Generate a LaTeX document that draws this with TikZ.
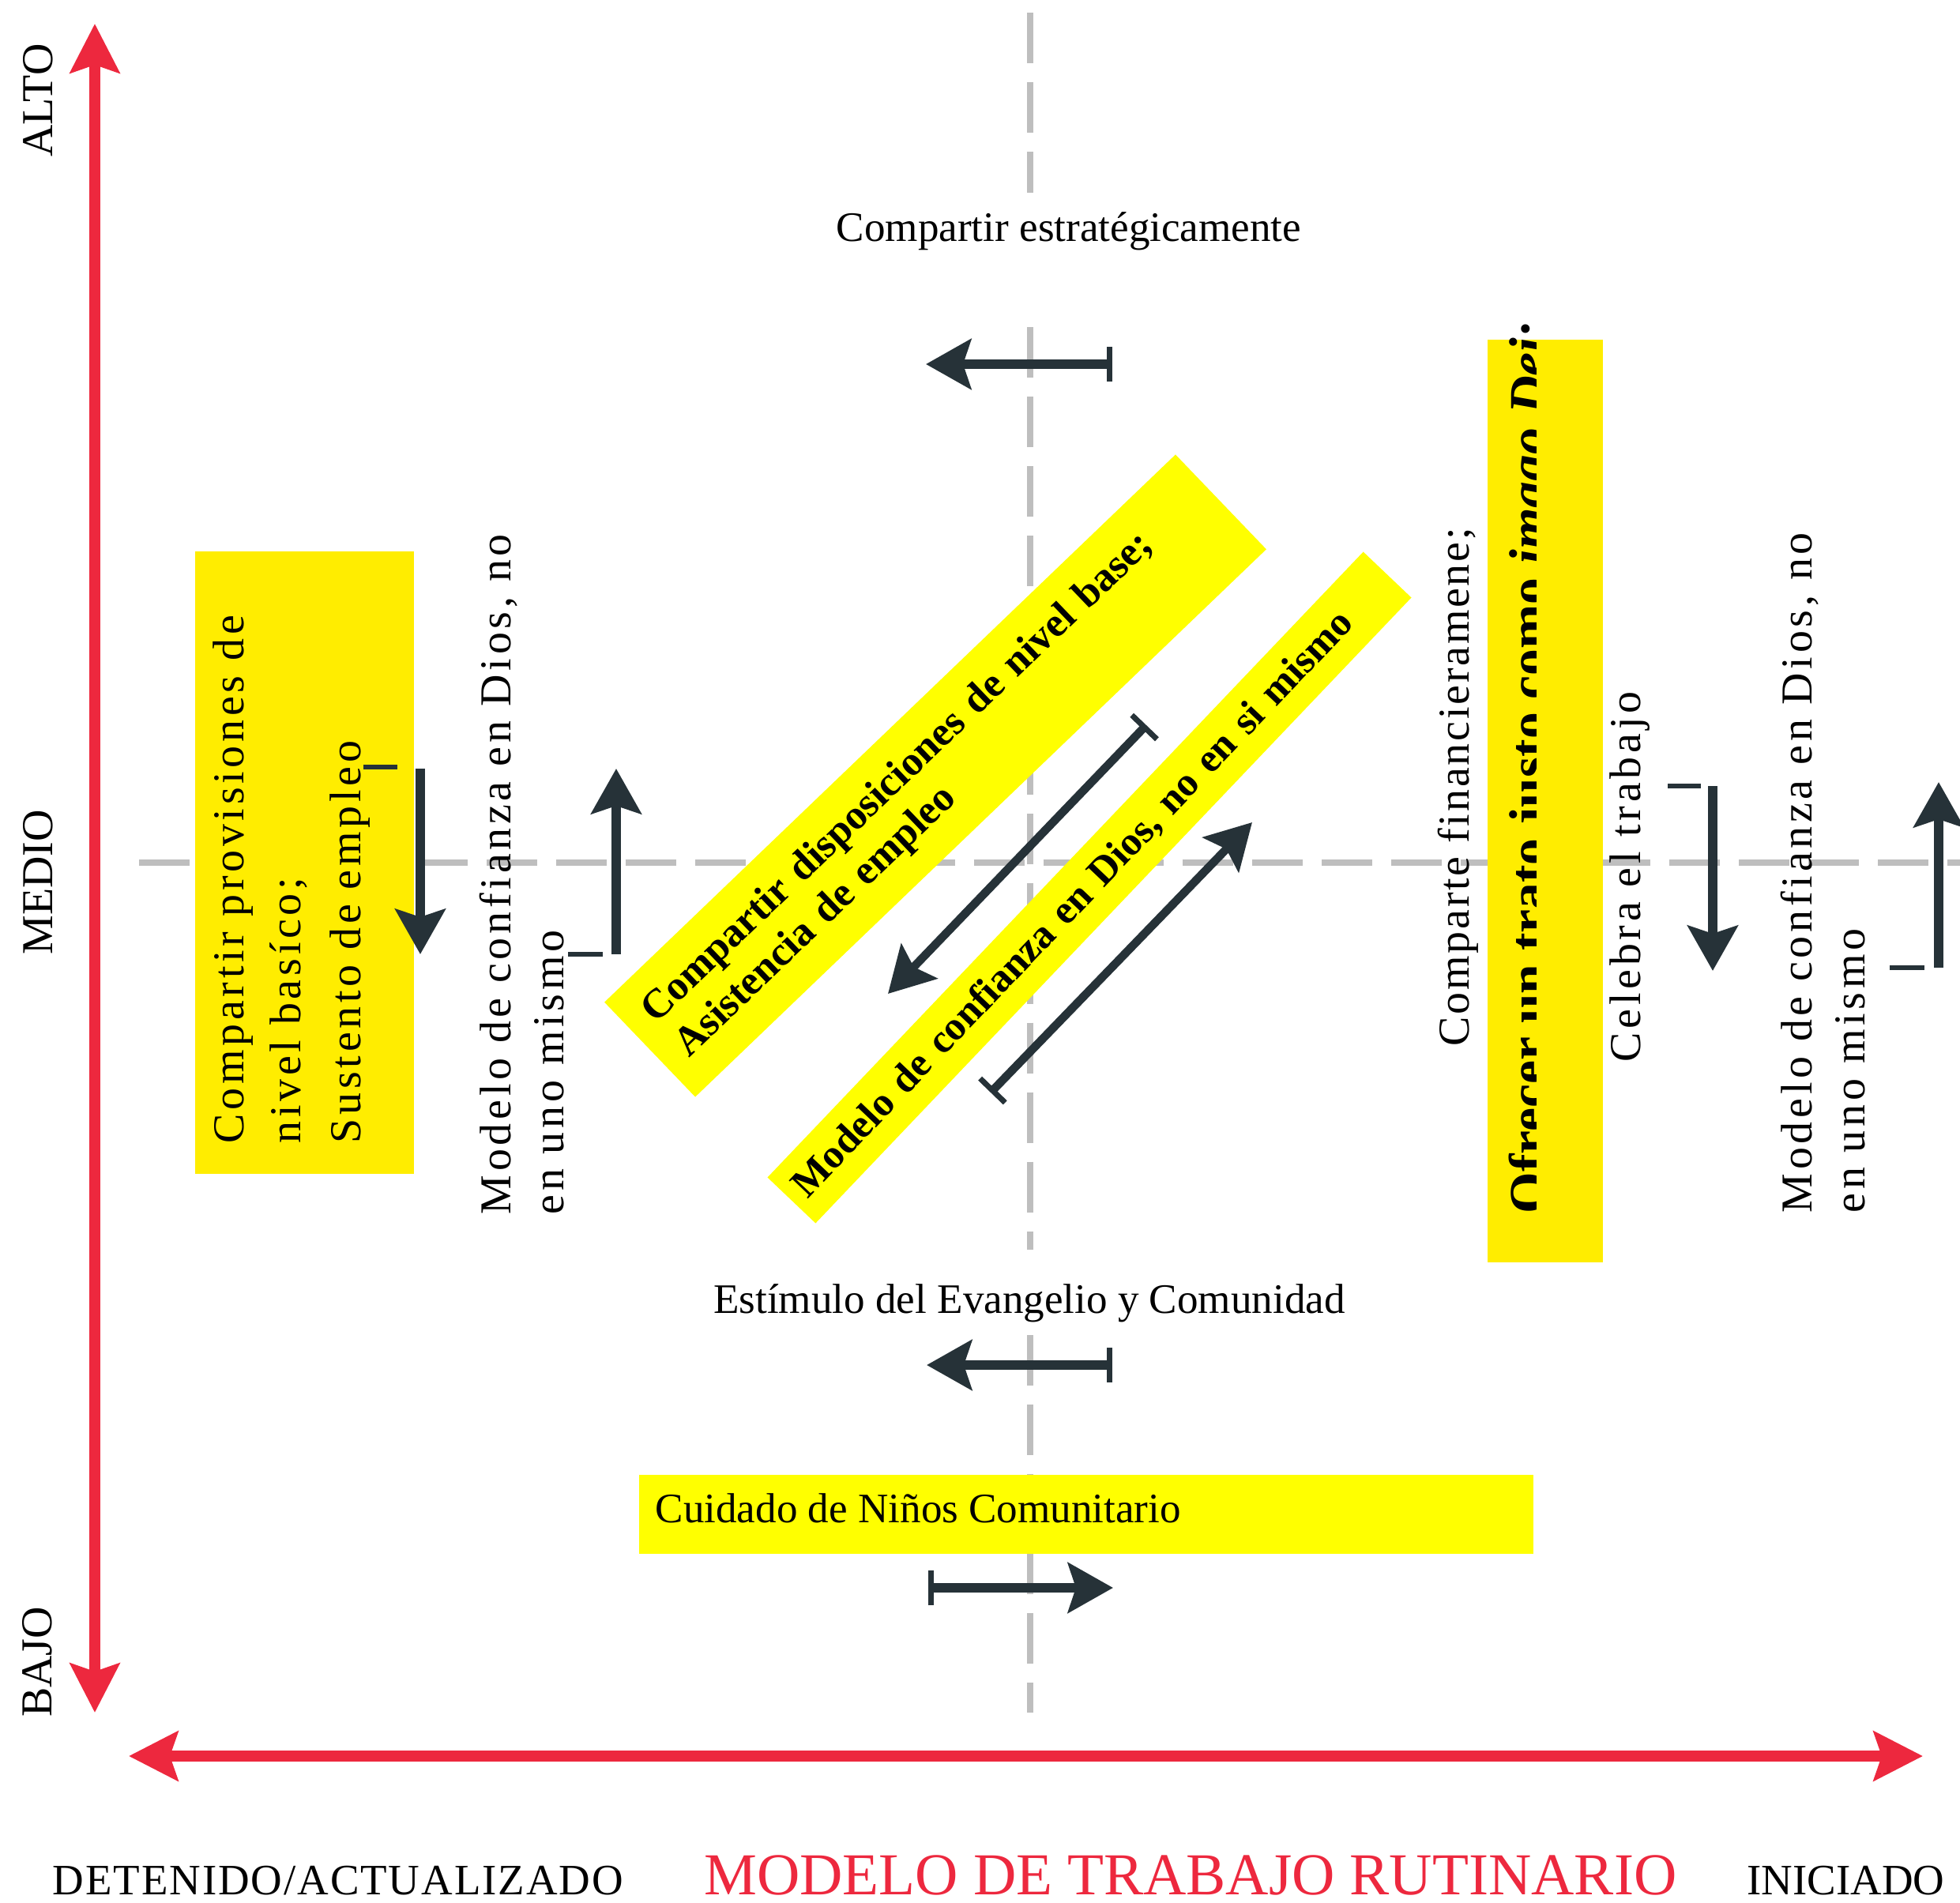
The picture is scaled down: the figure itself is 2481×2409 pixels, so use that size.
\documentclass[tikz,border=0pt]{standalone}
\usepackage{fontspec}
\setmainfont{Liberation Serif}
\newfontfamily\spaced[LetterSpace=8.5]{Liberation Serif}
\newfontfamily\capsfont[LetterSpace=3.5]{Liberation Serif}
\usetikzlibrary{arrows.meta}
\definecolor{axisred}{RGB}{237,40,62}
\definecolor{slate}{RGB}{38,50,56}
\definecolor{dashgray}{RGB}{190,190,190}
\definecolor{boxyellow}{RGB}{255,237,0}
\definecolor{hiyellow}{RGB}{255,255,0}
\begin{document}
\begin{tikzpicture}[x=0.01cm, y=-0.01cm,
    axis/.style={draw=axisred, line width=0.135cm, >={Stealth[length=0.62cm,width=0.62cm,inset=0.1cm]}, <->},
    guide/.style={draw=dashgray, line width=0.075cm, dash pattern=on 0.64cm off 0.24cm},
    flow/.style={draw=slate, line width=0.125cm, >={Stealth[length=0.57cm,width=0.63cm,inset=0.1cm]}, ->},
    flowbar/.style={flow, {Bar[width=0.44cm,line width=0.07cm]}->},
    diag/.style={flowbar, line width=0.105cm},
    tick/.style={draw=slate, line width=0.06cm},
    lbl/.style={inner sep=0, font=\fontsize{15.1}{18}\selectfont},
    vlbl/.style={rotate=90, anchor=base west, inner sep=0, font=\spaced\fontsize{15.9}{19}\selectfont},
    axlbl/.style={rotate=90, anchor=base, inner sep=0, font=\fontsize{15.9}{19}\selectfont},
    hibox/.style={fill=hiyellow, inner ysep=0, align=left}]
    \useasboundingbox (0,0) rectangle (2481,2409);

    \draw[guide] (1304,16) -- (1304,244);
    \draw[guide] (1304,414) -- (1304,1582);
    \draw[guide] (1304,1690) -- (1304,2168);
    \draw[guide] (176,1092) -- (2481,1092);

    \coordinate (VB) at (120,2168);
    \coordinate (VT) at (120,30);
    \coordinate (HL) at (163,2223);
    \coordinate (HR) at (2434,2223);
    \draw[axis] (VB) -- (VT);
    \draw[axis] (HL) -- (HR);

    \node[axlbl] (ALTO) at (66,127) {ALTO};
    \node[axlbl] (MEDIO) at (67,1117) {MEDIO};
    \node[axlbl] (BAJO) at (65,2104) {BAJO};
    \node[lbl, anchor=base west, font=\capsfont\fontsize{15.6}{19}\selectfont] (DET) at (66,2398) {DETENIDO/ACTUALIZADO};
    \node[lbl, anchor=base, text=axisred, font=\fontsize{21.4}{25}\selectfont] (MTR) at (1507,2398) {MODELO DE TRABAJO RUTINARIO};
    \node[lbl, anchor=base east, font=\fontsize{15.6}{19}\selectfont] (INI) at (2462,2398) {INICIADO};

    \node[fill=boxyellow, minimum width=2.77cm, minimum height=7.88cm, inner sep=0] (PROV) at (385.5,1092) {};
    \node[vlbl] (PROVa) at (308,1448) {Compartir provisiones de};
    \node[vlbl] (PROVb) at (380,1448) {nivel basíco;};
    \node[vlbl] (PROVc) at (456,1448) {Sustento de empleo};

    \node[vlbl] (MODLa) at (646,1538) {Modelo de confianza en Dios, no};
    \node[vlbl] (MODLb) at (713,1538) {en uno mismo};

    \node[fill=boxyellow, minimum width=1.46cm, minimum height=11.68cm, inner sep=0] (OFRE) at (1956,1014) {};
    \begin{scope}
        \clip (1880,380) rectangle (1944,1620);
        \node[rotate=90, anchor=base west, inner sep=0, font=\bfseries\fontsize{19.2}{22}\selectfont] (JUST) at (1957,1537) {Ofrecer un trato justo como \textit{imago Dei};};
    \end{scope}
    \node[vlbl, font=\spaced\addfontfeature{LetterSpace=5}\fontsize{15.9}{19}\selectfont] (FINA) at (1859,1325) {Comparte financieramene;};
    \node[vlbl] (CELE) at (2076,1345) {Celebra el trabajo};
    \node[vlbl] (MODRa) at (2293,1536) {Modelo de confianza en Dios, no};
    \node[vlbl] (MODRb) at (2360,1536) {en uno mismo};

    \node[hibox, rotate=43.8, minimum width=10.01cm, minimum height=1.66cm, inner xsep=0.28cm, text width=9.45cm, font=\bfseries\fontsize{14.8}{17.1}\selectfont] (DISP) at (1184,982) {Compartir disposiciones de nivel base;\\Asistencia de empleo};
    \node[hibox, rotate=46.4, minimum width=10.93cm, minimum height=0.84cm, inner xsep=0.15cm, text width=10.63cm, font=\bfseries\fontsize{14.5}{17}\selectfont] (CONF) at (1379,1123.5) {Modelo de confianza en Dios, no en si mismo};

    \node[lbl, anchor=base] (ESTR) at (1353,305) {Compartir estratégicamente};
    \node[lbl, anchor=base] (EVAN) at (1303,1662) {Estímulo del Evangelio y Comunidad};
    \node[fill=hiyellow, minimum width=11.32cm, minimum height=1.00cm, inner sep=0] (CUID) at (1375,1917) {};
    \node[lbl, anchor=base west] (NINOS) at (829,1927) {Cuidado de Niños Comunitario};

    \coordinate (ESTRa) at (1408,461);
    \coordinate (ESTRb) at (1172,461);
    \draw[flowbar] (ESTRa) -- (ESTRb);
    \coordinate (EVANa) at (1408,1728);
    \coordinate (EVANb) at (1173,1728);
    \draw[flowbar] (EVANa) -- (EVANb);
    \coordinate (NINOSa) at (1175,2010);
    \coordinate (NINOSb) at (1409,2010);
    \draw[flowbar] (NINOSa) -- (NINOSb);

    \coordinate (DISPa) at (1451,918);
    \coordinate (DISPb) at (1124,1258);
    \draw[diag] (DISPa) -- (DISPb);
    \coordinate (CONFa) at (1254,1383);
    \coordinate (CONFb) at (1585,1041);
    \draw[diag] (CONFa) -- (CONFb);

    \coordinate (LDa) at (532,973);
    \coordinate (LDb) at (532,1208);
    \draw[flow] (LDa) -- (LDb);
    \draw[tick] (460,971) -- (503,971);
    \coordinate (LUa) at (780,1208);
    \coordinate (LUb) at (780,973);
    \draw[flow] (LUa) -- (LUb);
    \draw[tick] (719,1208) -- (763,1208);
    \coordinate (RDa) at (2168,995);
    \coordinate (RDb) at (2168,1229);
    \draw[flow] (RDa) -- (RDb);
    \draw[tick] (2111,995) -- (2153,995);
    \coordinate (RUa) at (2454,1225);
    \coordinate (RUb) at (2454,990);
    \draw[flow] (RUa) -- (RUb);
    \draw[tick] (2392,1225) -- (2436,1225);
\end{tikzpicture}
\end{document}
